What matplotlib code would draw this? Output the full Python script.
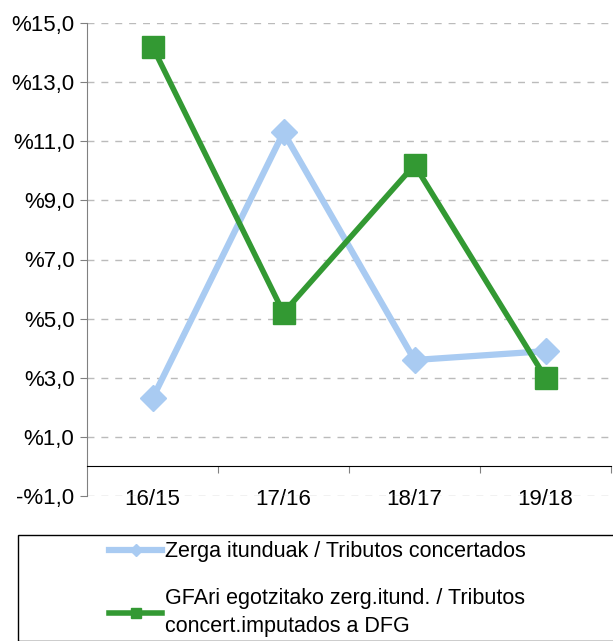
import matplotlib
matplotlib.use("Agg")
import matplotlib.pyplot as plt
from matplotlib.patches import Rectangle
from matplotlib.ticker import FixedLocator, FuncFormatter

plt.rcParams['font.family'] = ['Liberation Sans', 'DejaVu Sans']

periods = ["16/15", "17/16", "18/17", "19/18"]
tributos_concertados = [2.3, 11.3, 3.6, 3.9]
tributos_imputados_dfg = [14.2, 5.2, 10.2, 3.0]
y_ticks = [-1, 1, 3, 5, 7, 9, 11, 13, 15]

label_concertados = "Zerga itunduak / Tributos concertados"
label_imputados = "GFAri egotzitako zerg.itund. / Tributos\nconcert.imputados a DFG"

blue = "#A9CBF2"
green = "#339933"
fs = 16

fig = plt.figure(figsize=(6.13, 6.41), dpi=100)
ax = fig.add_axes([87 / 613, 1 - 496 / 641, (611 - 87) / 613, (496 - 23) / 641])

x = list(range(len(periods)))
ax.plot(x, tributos_concertados, color=blue, lw=4.5, marker='D', ms=13,
        label=label_concertados, zorder=3)
ax.plot(x, tributos_imputados_dfg, color=green, lw=4.0, marker='s', ms=16,
        label=label_imputados, zorder=4)

ax.set_xlim(-0.5, len(periods) - 0.5)
ax.set_ylim(-1, 15)

# y axis: percent labels with comma decimals
ax.yaxis.set_major_locator(FixedLocator(y_ticks))
ax.yaxis.set_major_formatter(FuncFormatter(
    lambda v, p: ("-%" if v < 0 else "%") + f"{abs(v):.1f}".replace(".", ",")))
ax.tick_params(axis='y', length=5, color='#808080', labelsize=fs, pad=4)
ax.grid(axis='y', color='#BBBBBB', ls=(0, (5, 5)), lw=1.0, zorder=0)

# x axis crosses at zero; tick marks between categories, labels at categories
ax.spines['bottom'].set_position(('data', 0))
ax.spines['bottom'].set_color('black')
ax.spines['left'].set_color('#808080')
ax.spines['top'].set_visible(False)
ax.spines['right'].set_visible(False)
ax.xaxis.set_major_locator(FixedLocator([i + 0.5 for i in x]))
ax.xaxis.set_major_formatter(FuncFormatter(lambda v, p: ""))
ax.xaxis.set_minor_locator(FixedLocator(x))
ax.xaxis.set_minor_formatter(FuncFormatter(lambda v, p: periods[int(round(v))]))
ax.tick_params(axis='x', which='major', length=5, color='#808080', direction='out')
ax.tick_params(axis='x', which='minor', length=0, labelsize=fs, pad=16)

# legend box below the plot
fig.patches.append(Rectangle((18 / 613, 0), 1.0, (641 - 535) / 641,
                             transform=fig.transFigure, fill=False,
                             edgecolor='black', lw=1.0))
leg = fig.legend(loc='upper left', bbox_to_anchor=(90 / 613, 1 - 522 / 641),
                 frameon=False, fontsize=15.5, handlelength=2.45, handletextpad=0.15,
                 labelspacing=1.2, markerscale=0.45)
for t in leg.get_texts():
    t.set_linespacing(1.4)

fig.savefig("out.png", dpi=100)
